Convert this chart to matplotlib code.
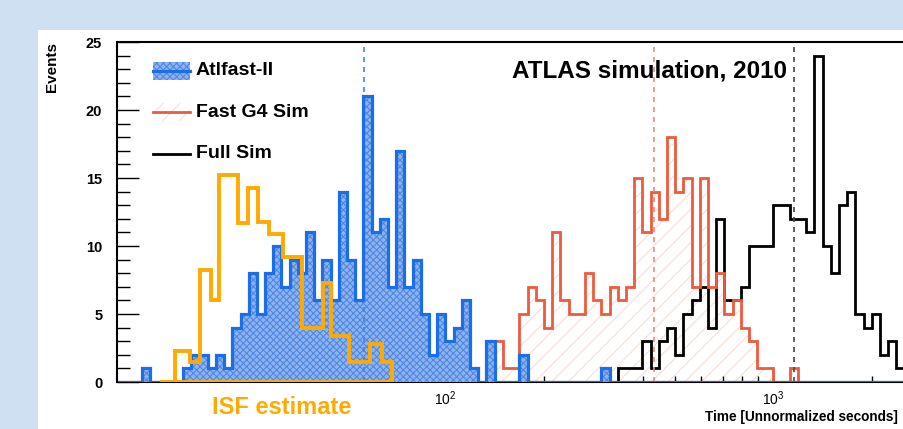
import matplotlib
matplotlib.use('Agg')
import matplotlib.pyplot as plt
import numpy as np
from matplotlib.patches import Rectangle
from matplotlib.lines import Line2D
from matplotlib.ticker import FixedLocator, NullFormatter

plt.rcParams['font.family'] = ['Liberation Sans', 'DejaVu Sans']
plt.rcParams['mathtext.fontset'] = 'custom'
plt.rcParams['mathtext.rm'] = 'Liberation Sans:bold'
plt.rcParams['mathtext.bf'] = 'Liberation Sans:bold'
plt.rcParams['hatch.linewidth'] = 0.8

# 40 log bins per decade, 10 .. 10^3.5
bin_edges = np.logspace(1, 3.5, 101)

atlfast = ([0, 0, 0, 1, 0, 0, 0, 0, 1, 2,
            2, 1, 2, 1, 4, 5, 8, 5, 8, 10,
            7, 9, 8, 11, 6, 9, 6, 14, 9, 6,
            21, 11, 12, 7, 17, 7, 9, 5, 2, 5,
            3, 4, 6, 1, 0, 3, 0, 0, 0, 2,
            0, 0, 0, 0, 0, 0, 0, 0, 0, 1] + [0] * 40)

fastg4 = ([0] * 45 + [1, 3, 1, 1, 5,
                      7, 6, 4, 11, 6, 5, 5, 8, 6, 5,
                      7, 6, 7, 15, 11, 14, 12, 18, 14, 15,
                      7, 15, 7, 8, 5, 6, 4, 3, 1, 1,
                      0, 0, 1] + [0] * 17)

fullsim = ([0] * 61 + [1, 1, 1, 3, 1, 3, 4, 2, 5,
                       6, 7, 4, 12, 6, 6, 7, 10, 10, 10,
                       13, 13, 12, 12, 11, 24, 10, 8, 13, 14,
                       5, 4, 5, 2, 3, 1] + [0] * 4)

# hand-drawn ISF estimate (own binning)
isf_edges = [13.5, 15.0, 16.6, 17.9, 19.3, 20.4, 23.3, 25.0, 26.8, 29.0,
             31.9, 36.5, 42.3, 44.8, 50.8, 58.9, 64.0, 68.7]
isf_heights = [0, 2.3, 1.5, 8.2, 6.0, 15.2, 11.7, 14.3, 11.8, 10.9,
               9.2, 4.0, 7.3, 3.4, 1.5, 2.8, 1.5]

means = {'atlfast': 56.4, 'fastg4': 432.0, 'fullsim': 1151.0}

BLUE = '#1c6ee8'
RED = '#ee5a3c'
ORANGE = '#ffaa00'
BLUE_FILL = '#8fb3ee'
BLUE_HATCH = '#4f88e3'
RED_HATCH = '#f8ddd6'

W, H = 904, 429
fig = plt.figure(figsize=(W / 100, H / 100), dpi=100)
fig.patch.set_facecolor('#cfe0f2')
fig.add_artist(Rectangle((38 / W, 0), 1, (H - 30) / H, transform=fig.transFigure,
                         facecolor='white', edgecolor='none', zorder=0))

ax = fig.add_axes([117.5 / W, 47 / H, (W - 117.5) / W, 340 / H])
ax.patch.set_alpha(0)
ax.set_xscale('log')
ax.set_xlim(10, 10 ** (1 + 786.5 / 328))
ax.set_ylim(0, 25)

# Fast G4 Sim hatch
ax.stairs(fastg4, bin_edges, fill=True, facecolor='none', edgecolor=RED_HATCH,
          hatch='//', linewidth=0, zorder=1)
ax.stairs(fullsim, bin_edges, color='black', linewidth=2.0, zorder=2)
ax.stairs(fastg4, bin_edges, color=RED, linewidth=2.0, zorder=3)
ax.stairs(atlfast, bin_edges, fill=True, facecolor=BLUE_FILL, edgecolor=BLUE_HATCH,
          hatch='xxxxx', linewidth=0, zorder=4)
ax.stairs(atlfast, bin_edges, color=BLUE, linewidth=2.3, zorder=5)

ax.axvline(means['atlfast'], color='#3f85ea', ls=(0, (3, 3)), lw=1.2, zorder=4.5)
ax.axvline(means['fastg4'], color='#f08a7a', ls=(0, (3, 3)), lw=1.2, zorder=4.5)
ax.axvline(means['fullsim'], color='#444444', ls=(0, (3, 3)), lw=1.2, zorder=4.5)

ax.stairs(isf_heights, isf_edges, color=ORANGE, linewidth=2.8, zorder=6)
ax.hlines(0, isf_edges[0], isf_edges[-1], color=ORANGE, linewidth=2.8, zorder=6)

# axes style (ROOT-like)
for side in ['top', 'left', 'bottom']:
    ax.spines[side].set_color('black')
    ax.spines[side].set_linewidth(1.5)
ax.spines['right'].set_visible(False)

ax.set_yticks([0, 5, 10, 15, 20, 25])
ax.yaxis.set_minor_locator(FixedLocator(range(0, 26)))
ax.tick_params(axis='y', which='major', direction='in', length=16, width=1, labelsize=10.5, pad=11)
ax.tick_params(axis='y', which='minor', direction='in', length=9, width=1)
for lab in ax.get_yticklabels():
    lab.set_fontweight('bold')

ax.xaxis.set_major_locator(FixedLocator([100, 1000]))
ax.set_xticklabels([r'$\mathregular{10^{2}}$', r'$\mathregular{10^{3}}$'])
minors = [m * d for d in (10, 100, 1000) for m in range(2, 10)]
ax.xaxis.set_minor_locator(FixedLocator(minors))
ax.xaxis.set_minor_formatter(NullFormatter())
ax.tick_params(axis='x', which='major', direction='in', length=8, width=1, labelsize=10, pad=5)
ax.tick_params(axis='x', which='minor', direction='in', length=4, width=1)

# legend (drawn by hand, ROOT style)
lx0, lx1 = 0.0451, 0.0922
ax.add_patch(Rectangle((lx0, 0.888), lx1 - lx0, 0.053, transform=ax.transAxes,
                       facecolor=BLUE_FILL, edgecolor=BLUE_HATCH, hatch='xxxxx', lw=0, zorder=7))
ax.add_line(Line2D([lx0, lx1], [0.915, 0.915], transform=ax.transAxes, color=BLUE, lw=2.3, zorder=8))
ax.add_patch(Rectangle((lx0, 0.767), lx1 - lx0, 0.053, transform=ax.transAxes,
                       facecolor='none', edgecolor=RED_HATCH, hatch='//', lw=0, zorder=7))
ax.add_line(Line2D([lx0, lx1], [0.794, 0.794], transform=ax.transAxes, color=RED, lw=2.0, zorder=8))
ax.add_line(Line2D([lx0, lx1], [0.671, 0.671], transform=ax.transAxes, color='black', lw=2.0, zorder=8))
for yy, txt in [(0.915, 'Atlfast-II'), (0.794, 'Fast G4 Sim'), (0.671, 'Full Sim')]:
    ax.text(0.0998, yy, txt, transform=ax.transAxes, fontsize=14, fontweight='bold',
            va='center', ha='left', zorder=8)

ax.text(0.5016, 0.915, 'ATLAS simulation, 2010', transform=ax.transAxes, fontsize=17.5,
        fontweight='bold', va='center', ha='left', zorder=8)

fig.text(52 / W, 1 - 42 / H, 'Events', rotation=90, ha='center', va='top',
         fontsize=11, fontweight='bold')
fig.text(898 / W, 1 - 417 / H, 'Time [Unnormalized seconds]', ha='right', va='center',
         fontsize=9.8, fontweight='bold')
fig.text(212 / W, 1 - 408 / H, 'ISF estimate', ha='left', va='center',
         fontsize=17, fontweight='bold', color=ORANGE)

fig.savefig('out.png', dpi=100, facecolor=fig.get_facecolor())
